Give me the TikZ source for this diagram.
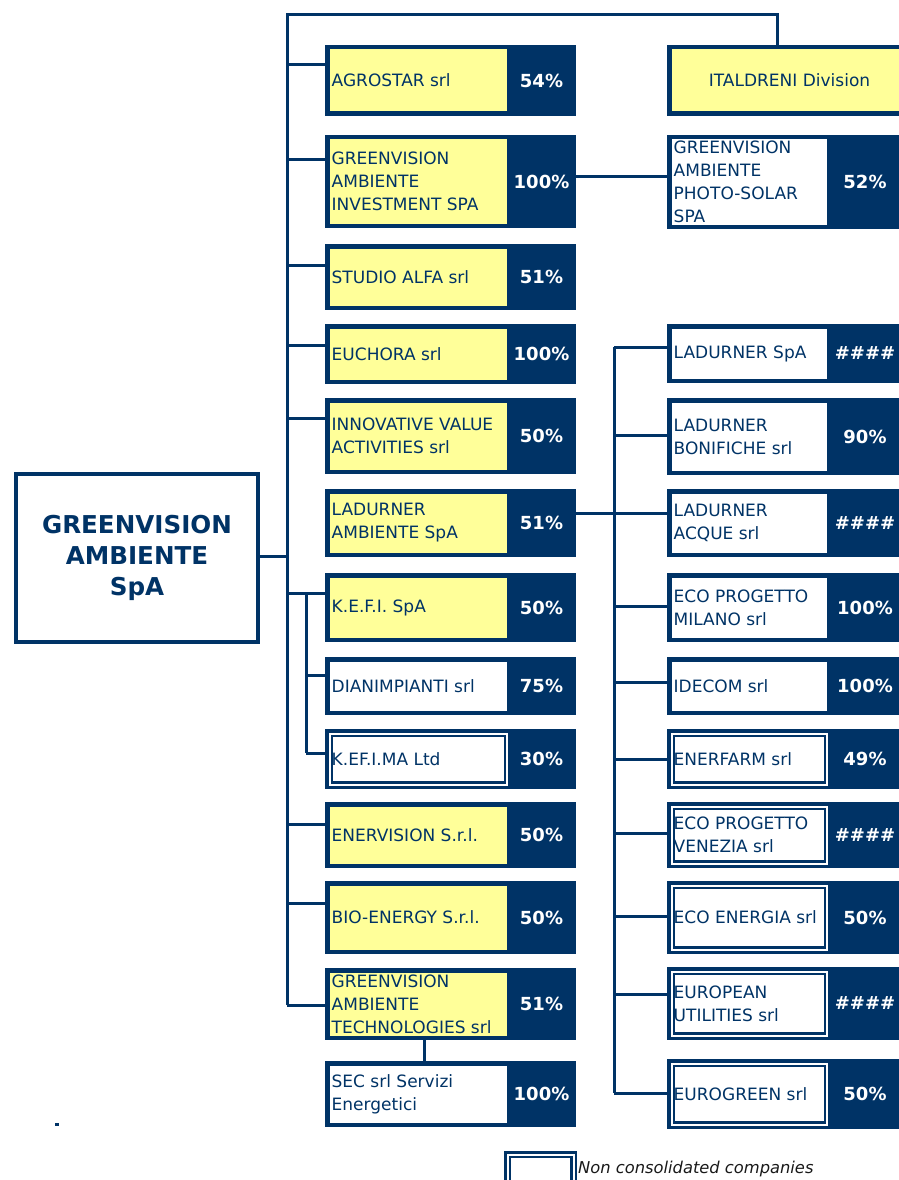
\documentclass[tikz,border=0pt]{standalone}
\usepackage{fontspec}
\setmainfont{DejaVu Sans}
\usepackage{tikz}
\usetikzlibrary{calc}

\definecolor{gvnavy}{RGB}{0,51,102}
\definecolor{gvyellow}{RGB}{255,255,153}

\tikzset{
  firmbox/.style={fill=gvnavy, anchor=north west, inner sep=0pt, outer sep=0pt},
  field/.style={anchor=north west, inner sep=0pt, outer sep=0pt},
  consol/.style={field, fill=gvyellow},
  subsid/.style={field, fill=white},
  noncons/.style={field, fill=white, draw=gvnavy, line width=2.5pt, double=white, double distance=2pt},
  fieldtext/.style={anchor=west, align=left, inner sep=0pt, text=gvnavy, font=\fontsize{17}{23}\selectfont},
  sharetext/.style={inner sep=0pt, text=white, font=\fontsize{18}{20}\selectfont\bfseries},
  link/.style={draw=gvnavy, line width=3pt},
}

% id, left x, top y, height, box width, field width, field style, name, share
\newcommand{\firm}[9]{%
  \node[firmbox, minimum width=#5pt, minimum height=#4pt] (#1) at (#2,#3) {};
  \node[#7, minimum width=#6pt-4.5pt, minimum height=#4pt-9pt] (#1-f) at ([shift={(4.5pt,-4.5pt)}]#1.north west) {};
  \node[fieldtext] at ([xshift=2pt]#1-f.west) {#8};
  \node[sharetext] (#1-s) at ($(#1-f.east)!.5!(#1.east)$) {#9};
}
\newcommand{\lfirm}[6]{\firm{#1}{325}{#2}{#3}{251}{182}{#4}{#5}{#6}}
\newcommand{\rfirm}[6]{\firm{#1}{667}{#2}{#3}{236}{160}{#4}{#5}{#6}}

\begin{document}
\begin{tikzpicture}[x=1pt,y=-1pt]
\useasboundingbox (0,0) rectangle (899,1180);

% holding
\node[draw=gvnavy, line width=4pt, fill=white, minimum width=242pt, minimum height=168pt,
  anchor=north west, inner sep=0pt, align=center, text=gvnavy,
  font=\fontsize{24.6}{31}\selectfont\bfseries] (gva) at (14,472) {GREENVISION\\AMBIENTE\\SpA};

% left column
\lfirm{agro}{45}{71}{consol}{AGROSTAR srl}{54\%}
\lfirm{gvinv}{135}{93}{consol}{GREENVISION\\AMBIENTE\\INVESTMENT SPA}{100\%}
\lfirm{alfa}{244}{66}{consol}{STUDIO ALFA srl}{51\%}
\lfirm{euch}{324}{60}{consol}{EUCHORA srl}{100\%}
\lfirm{iva}{398}{76}{consol}{INNOVATIVE VALUE\\ACTIVITIES srl}{50\%}
\lfirm{lamb}{489}{68}{consol}{LADURNER\\AMBIENTE SpA}{51\%}
\lfirm{kefi}{573}{69}{consol}{K.E.F.I. SpA}{50\%}
\lfirm{diani}{657}{58}{subsid}{DIANIMPIANTI srl}{75\%}
\lfirm{kefima}{729}{60}{noncons}{K.EF.I.MA Ltd}{30\%}
\lfirm{enerv}{802}{66}{consol}{ENERVISION S.r.l.}{50\%}
\lfirm{bio}{881}{73}{consol}{BIO-ENERGY S.r.l.}{50\%}
\lfirm{gvtech}{968}{72}{consol}{GREENVISION\\AMBIENTE\\TECHNOLOGIES srl}{51\%}
\lfirm{sec}{1061}{66}{subsid}{SEC srl Servizi\\Energetici}{100\%}

% right column
\node[firmbox, minimum width=240pt, minimum height=71pt] (italdreni) at (667,45) {};
\node[consol, minimum width=240pt, minimum height=62pt] (italdreni-f) at ([shift={(4.5pt,-4.5pt)}]italdreni.north west) {};
\node[fieldtext, anchor=center] at ([xshift=-2pt]italdreni-f.center) {ITALDRENI Division};
\rfirm{photo}{135}{94}{subsid}{GREENVISION\\AMBIENTE\\PHOTO-SOLAR\\SPA}{52\%}
\rfirm{ladspa}{324}{59}{subsid}{LADURNER SpA}{\#\#\#\#}
\rfirm{ladbon}{398}{77}{subsid}{LADURNER\\BONIFICHE srl}{90\%}
\rfirm{ladacq}{489}{68}{subsid}{LADURNER\\ACQUE srl}{\#\#\#\#}
\rfirm{ecomil}{573}{69}{subsid}{ECO PROGETTO\\MILANO srl}{100\%}
\rfirm{idecom}{657}{58}{subsid}{IDECOM srl}{100\%}
\rfirm{enerfarm}{729}{60}{noncons}{ENERFARM srl}{49\%}
\rfirm{ecoven}{802}{66}{noncons}{ECO PROGETTO\\VENEZIA srl}{\#\#\#\#}
\rfirm{ecoen}{881}{73}{noncons}{ECO ENERGIA srl}{50\%}
\rfirm{euro}{967}{73}{noncons}{EUROPEAN\\UTILITIES srl}{\#\#\#\#}
\rfirm{eurogreen}{1059}{70}{noncons}{EUROGREEN srl}{50\%}

% links
\coordinate (trunk) at (287,15);
\coordinate (kefisub) at (306,593);
\coordinate (ladsub) at (614,347);
\coordinate (italdrop) at ([xshift=-10pt]italdreni.north);

\foreach \id/\dy in {agro/20, gvinv/24, alfa/21, euch/21, iva/20, kefi/20, enerv/22, bio/22, gvtech/37}
  \draw[link] ([yshift=-\dy pt]\id.north west) coordinate (\id-in) -- (\id-in -| trunk);
\draw[link] (gvtech-in -| trunk) -- (trunk) -| (italdrop);
\draw[link] ([yshift=2pt]gva.east) coordinate (gva-out) -- (gva-out -| trunk);

\foreach \id/\dy in {diani/18, kefima/24}
  \draw[link] ([yshift=-\dy pt]\id.north west) coordinate (\id-in) -- (\id-in -| kefisub);
\draw[link] (kefi-in -| kefisub) -- (kefima-in -| kefisub);

\draw[link] ([xshift=-26pt]gvtech.south) -- ([xshift=-26pt]sec.north);
\draw[link] ([yshift=5.5pt]gvinv.east) coordinate (gvinv-out) -- (gvinv-out -| photo.west);

\foreach \id/\dy in {ladspa/23, ladbon/37, ladacq/24, ecomil/33, idecom/25, enerfarm/30, ecoven/31, ecoen/35, euro/27, eurogreen/34}
  \draw[link] ([yshift=-\dy pt]\id.north west) coordinate (\id-in) -- (\id-in -| ladsub);
\draw[link] (ladspa-in -| ladsub) -- (eurogreen-in -| ladsub);
\draw[link] ([yshift=10pt]lamb.east) coordinate (lamb-out) -- (lamb-out -| ladsub);

% legend
\node[noncons, minimum width=66pt, minimum height=40pt] (legbox) at (507.5,1154.5) {};
\node[anchor=base west, inner sep=0pt, text=black!90, font=\fontsize{16.3}{18}\selectfont\itshape] (legtext) at (578,1173) {Non consolidated companies};
\fill[gvnavy] (55,1123) rectangle (59,1126);
\end{tikzpicture}
\end{document}
